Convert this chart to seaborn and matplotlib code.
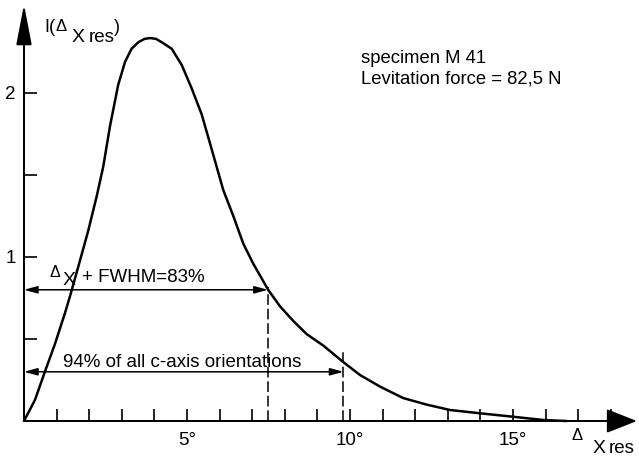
import matplotlib
matplotlib.use("Agg")
import matplotlib.pyplot as plt
import seaborn as sns
import pandas as pd

# Distribution of the c-axis misorientation angle
angle_deg = [0.0, 0.34, 0.64, 0.95, 1.26, 1.41, 1.72, 1.97, 2.23, 2.43, 2.64,
             2.89, 3.10, 3.30, 3.51, 3.70, 3.87, 4.05, 4.22, 4.53, 4.84, 5.14,
             5.45, 5.71, 5.91, 6.11, 6.42, 6.73, 7.03, 7.49, 7.85, 8.26, 8.67,
             9.18, 9.79, 10.31, 10.92, 11.63, 12.35, 13.07, 13.99, 15.0,
             15.93, 16.65]
intensity = [0.0, 0.13, 0.30, 0.47, 0.66, 0.76, 0.98, 1.16, 1.37, 1.55, 1.80,
             2.05, 2.19, 2.27, 2.31, 2.33, 2.335, 2.33, 2.31, 2.27, 2.17, 2.03,
             1.87, 1.69, 1.55, 1.41, 1.25, 1.08, 0.96, 0.80, 0.70, 0.61, 0.53,
             0.46, 0.36, 0.28, 0.21, 0.14, 0.10, 0.067, 0.047, 0.026,
             0.006, 0.0]

# Width markers: (upper angle, height of the double arrow)
fwhm_end, fwhm_level = 7.48, 0.80
c94_end, c94_level = 9.8, 0.30

x_ticks = list(range(1, 19))
x_tick_labels = {5: "5°", 10: "10°", 15: "15°"}
y_ticks = [0.5, 1.0, 1.5, 2.0]
y_tick_labels = {1.0: "1", 2.0: "2"}

info_lines = ["specimen M 41", "Levitation force = 82,5 N"]

sns.set_theme(style="white")
plt.rcParams["font.family"] = ["Liberation Sans", "DejaVu Sans"]

df = pd.DataFrame({"angle": angle_deg, "I": intensity})

fig = plt.figure(figsize=(6.39, 4.57), dpi=100)
ax = fig.add_axes([0, 0, 1, 1])
ax.set_xlim(-0.736, 18.865)
ax.set_ylim(-0.2195, 2.567)

sns.lineplot(data=df, x="angle", y="I", ax=ax, color="black", lw=1.8,
             sort=False, estimator=None, solid_joinstyle="round",
             solid_capstyle="round")
ax.set_xlabel("")
ax.set_ylabel("")

# axes crossing at the origin
for side in ("top", "right"):
    ax.spines[side].set_visible(False)
ax.spines["left"].set_position(("data", 0))
ax.spines["bottom"].set_position(("data", 0))
ax.spines["left"].set_bounds(0, 2.45)
ax.spines["bottom"].set_bounds(0, 18.5)
for side in ("left", "bottom"):
    ax.spines[side].set_color("black")
    ax.spines[side].set_linewidth(1.4)

ax.set_xticks(x_ticks)
ax.set_xticklabels([x_tick_labels.get(t, "") for t in x_ticks])
ax.set_yticks(y_ticks)
ax.set_yticklabels([y_tick_labels.get(t, "") for t in y_ticks])
ax.tick_params(axis="x", direction="in", length=9, width=1.2, pad=8,
               labelsize=13.5, colors="black", bottom=True)
ax.tick_params(axis="y", direction="in", length=9, width=1.2, pad=6,
               labelsize=13.5, colors="black", left=True)

# arrow heads on the axes
ax.annotate("", xy=(18.8, 0), xytext=(0, 0),
            arrowprops=dict(arrowstyle="-|>,head_length=19,head_width=7.5",
                            mutation_scale=1, lw=1.4, color="black",
                            shrinkA=0, shrinkB=0))
ax.annotate("", xy=(0, 2.54), xytext=(0, 0),
            arrowprops=dict(arrowstyle="-|>,head_length=25,head_width=4.8",
                            mutation_scale=1, lw=1.4, color="black",
                            shrinkA=0, shrinkB=0))

# width markers
dash = (0, (7, 2.5))
for end, level, top in ((fwhm_end, fwhm_level, fwhm_level + 0.02),
                        (c94_end, c94_level, 0.43)):
    ax.annotate("", xy=(end, level), xytext=(0, level),
                arrowprops=dict(arrowstyle="<|-|>,head_length=8,head_width=2.2",
                                mutation_scale=1, lw=1.1, color="black",
                                shrinkA=0, shrinkB=0))
    ax.plot([end, end], [0, top], color="black", lw=1.1, ls=dash)

txt = dict(color="black", va="baseline", ha="left")
ax.text(0.78, 0.88, "Δ", fontsize=11.5, **txt)
ax.text(1.19, 0.83, "X", fontsize=14, **txt)
ax.text(1.78, 0.85, "+ FWHM=83%", fontsize=13.5, **txt)
ax.text(1.20, 0.33, "94% of all c-axis orientations", fontsize=13.5, **txt)

# axis titles
ax.text(0.64, 2.37, "I(", fontsize=13, **txt)
ax.text(0.96, 2.375, "Δ", fontsize=12, **txt)
ax.text(1.47, 2.31, "X", fontsize=14, **txt)
ax.text(1.98, 2.31, "res", fontsize=13.5, **txt)
ax.text(2.75, 2.37, ")", fontsize=13, **txt)

ax.text(16.8, -0.116, "Δ", fontsize=12, **txt)
ax.text(17.45, -0.195, "X", fontsize=14, **txt)
ax.text(17.95, -0.195, "res", fontsize=13.5, **txt)

ax.text(10.34, 2.183, info_lines[0], fontsize=13.3, **txt)
ax.text(10.34, 2.055, info_lines[1], fontsize=13.3, **txt)

fig.savefig("out.png", dpi=100, facecolor="white")
